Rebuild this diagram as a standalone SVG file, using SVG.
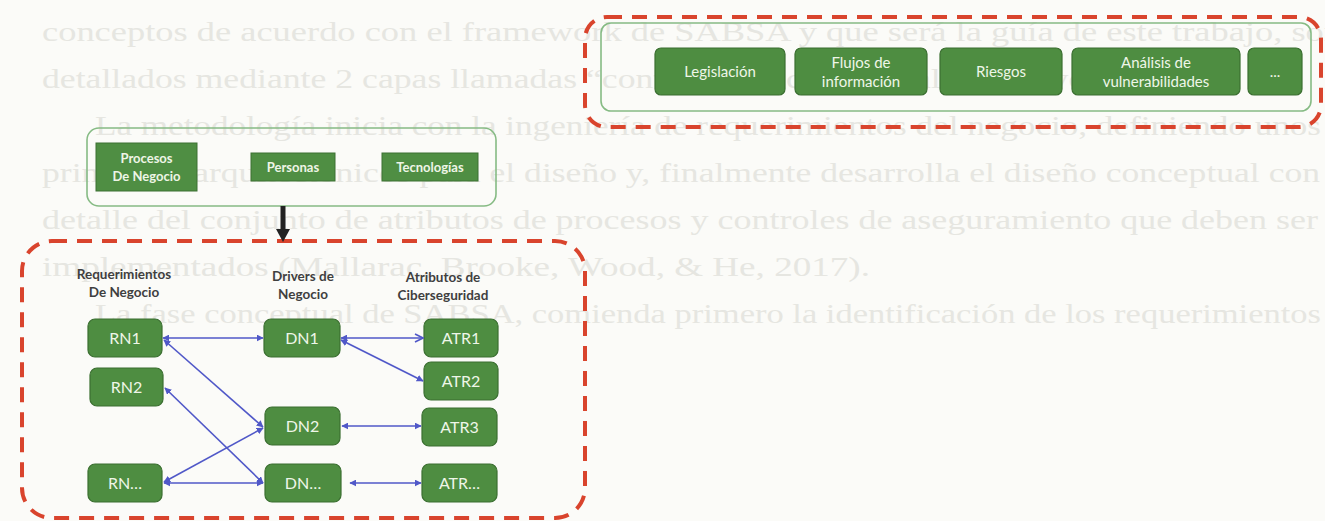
<svg xmlns="http://www.w3.org/2000/svg" width="1325" height="521" viewBox="0 0 1325 521">
  <style>
    .page { fill: #fbfbf8; }
    .bgtext { font-family: "Liberation Serif", serif; font-size: 27px; fill: #e6e6e1; }
    .dash { fill: none; stroke: #d9442d; stroke-width: 4; stroke-dasharray: 15 10; }
    .frame { fill: none; stroke: #86bb84; stroke-width: 1.6; }
    .box { fill: #4e8d41; stroke: #3b6f31; stroke-width: 1.2; }
    .sq { fill: #4f8e43; stroke: #3d7133; stroke-width: 1; }
    .lbl { font-family: Lato, "Open Sans", sans-serif; font-size: 15px; fill: #eef6e8; text-anchor: middle; }
    .blbl { font-family: Lato, "Open Sans", sans-serif; font-size: 13px; font-weight: bold; fill: #eef5e6; text-anchor: middle; }
    .nlbl { font-family: Lato, "Open Sans", sans-serif; font-size: 16px; fill: #eef6e8; text-anchor: middle; }
    .hdr { font-family: Lato, "Open Sans", sans-serif; font-size: 13.5px; font-weight: bold; fill: #3f3f3f; text-anchor: middle; }
    .link { fill: none; stroke: #5058c8; stroke-width: 1.6; }
  </style>
  <defs>
    <marker id="tri" viewBox="0 0 10 10" refX="9" refY="5" markerWidth="7" markerHeight="7" markerUnits="userSpaceOnUse" orient="auto-start-reverse">
      <path d="M0,0 L10,5 L0,10 Z" fill="#5058c8"/>
    </marker>
    <marker id="chev" viewBox="0 0 10 10" refX="9" refY="5" markerWidth="10" markerHeight="10" markerUnits="userSpaceOnUse" orient="auto">
      <path d="M1,1 L9,5 L1,9" fill="none" stroke="#5058c8" stroke-width="1.6"/>
    </marker>
  </defs>

  <rect class="page" x="0" y="0" width="1325" height="521"/>

  <!-- printed page text showing through behind the figure -->
  <g id="page-text">
    <text class="bgtext" x="42" y="41" textLength="1300" lengthAdjust="spacingAndGlyphs">conceptos de acuerdo con el framework de SABSA y que será la guía de este trabajo, son</text>
    <text class="bgtext" x="42" y="88" textLength="1190" lengthAdjust="spacingAndGlyphs">detallados mediante 2 capas llamadas “contextual y conceptual” (Sherwood, 2013).</text>
    <text class="bgtext" x="95" y="135" textLength="1226" lengthAdjust="spacingAndGlyphs">La metodología inicia con la ingeniería de requerimientos del negocio, definiendo unos</text>
    <text class="bgtext" x="42" y="182" textLength="1278" lengthAdjust="spacingAndGlyphs">principios arquitectónicos para el diseño y, finalmente desarrolla el diseño conceptual con</text>
    <text class="bgtext" x="42" y="229" textLength="1276" lengthAdjust="spacingAndGlyphs">detalle del conjunto de atributos de procesos y controles de aseguramiento que deben ser</text>
    <text class="bgtext" x="42" y="276" textLength="828" lengthAdjust="spacingAndGlyphs">implementados (Mallarac, Brooke, Wood, &amp; He, 2017).</text>
    <text class="bgtext" x="95" y="323" textLength="1226" lengthAdjust="spacingAndGlyphs">La fase conceptual de SABSA, comienda primero la identificación de los requerimientos</text>
  </g>

  <!-- context layer -->
  <g id="context">
    <rect class="dash" x="585" y="17" width="736" height="110" rx="22"/>
    <rect class="frame" x="601" y="23" width="710" height="88" rx="10"/>
  </g>
  <g id="legislacion">
    <rect class="box" x="655" y="48" width="130" height="47" rx="6"/>
    <text class="lbl" x="720" y="77">Legislación</text>
  </g>
  <g id="flujos">
    <rect class="box" x="795" y="48" width="132" height="47" rx="6"/>
    <text class="lbl" x="861" y="68">Flujos de</text>
    <text class="lbl" x="861" y="87">información</text>
  </g>
  <g id="riesgos">
    <rect class="box" x="940" y="48" width="122" height="47" rx="6"/>
    <text class="lbl" x="1001" y="77">Riesgos</text>
  </g>
  <g id="vulnerabilidades">
    <rect class="box" x="1072" y="48" width="168" height="47" rx="6"/>
    <text class="lbl" x="1156" y="68">Análisis de</text>
    <text class="lbl" x="1156" y="87">vulnerabilidades</text>
  </g>
  <g id="otros">
    <rect class="box" x="1248" y="48" width="54" height="47" rx="6"/>
    <text class="lbl" x="1275" y="77">...</text>
  </g>

  <!-- business dimensions -->
  <g id="dimensiones">
    <rect class="frame" x="87" y="128" width="409" height="78" rx="12"/>
  </g>
  <g id="procesos">
    <rect class="sq" x="96" y="143" width="101" height="48"/>
    <text class="blbl" x="146.5" y="163">Procesos</text>
    <text class="blbl" x="146.5" y="181">De Negocio</text>
  </g>
  <g id="personas">
    <rect class="sq" x="251" y="153" width="84" height="28"/>
    <text class="blbl" x="293" y="172">Personas</text>
  </g>
  <g id="tecnologias">
    <rect class="sq" x="382" y="153" width="96" height="28"/>
    <text class="blbl" x="430" y="172">Tecnologías</text>
  </g>

  <!-- conceptual layer -->
  <g id="conceptual">
    <rect class="dash" x="22" y="241" width="563" height="277" rx="30"/>
    <text class="hdr" x="124" y="279">Requerimientos</text>
    <text class="hdr" x="124" y="297">De Negocio</text>
    <text class="hdr" x="303" y="281">Drivers de</text>
    <text class="hdr" x="303" y="299">Negocio</text>
    <text class="hdr" x="443" y="282">Atributos de</text>
    <text class="hdr" x="443" y="300">Ciberseguridad</text>
  </g>

  <g id="rn1"><rect class="box" x="88" y="319" width="74" height="38" rx="7"/><text class="nlbl" x="125" y="344">RN1</text></g>
  <g id="rn2"><rect class="box" x="90" y="368" width="73" height="38" rx="7"/><text class="nlbl" x="126.5" y="393">RN2</text></g>
  <g id="rnx"><rect class="box" x="88" y="464" width="74" height="38" rx="7"/><text class="nlbl" x="125" y="489">RN…</text></g>
  <g id="dn1"><rect class="box" x="264" y="319" width="76" height="38" rx="7"/><text class="nlbl" x="302" y="344">DN1</text></g>
  <g id="dn2"><rect class="box" x="265" y="407" width="75" height="38" rx="7"/><text class="nlbl" x="302.5" y="432">DN2</text></g>
  <g id="dnx"><rect class="box" x="265" y="464" width="76" height="38" rx="7"/><text class="nlbl" x="303" y="489">DN…</text></g>
  <g id="atr1"><rect class="box" x="424" y="319" width="74" height="38" rx="7"/><text class="nlbl" x="461" y="344">ATR1</text></g>
  <g id="atr2"><rect class="box" x="424" y="362" width="74" height="38" rx="7"/><text class="nlbl" x="461" y="387">ATR2</text></g>
  <g id="atr3"><rect class="box" x="422" y="408" width="75" height="38" rx="7"/><text class="nlbl" x="459.5" y="433">ATR3</text></g>
  <g id="atrx"><rect class="box" x="422" y="464" width="75" height="38" rx="7"/><text class="nlbl" x="459.5" y="489">ATR…</text></g>

  <!-- connectors -->
  <g id="connectors">
    <line x1="283" y1="206" x2="283" y2="230" stroke="#222" stroke-width="5"/>
    <path d="M276,229 L290,229 L283,242 Z" fill="#222"/>
    <line class="link" x1="163" y1="338" x2="263" y2="338" marker-start="url(#tri)" marker-end="url(#tri)"/>
    <line class="link" x1="164" y1="340" x2="263" y2="427" marker-start="url(#tri)" marker-end="url(#tri)"/>
    <line class="link" x1="165" y1="388" x2="263" y2="483" marker-start="url(#tri)" marker-end="url(#tri)"/>
    <line class="link" x1="164" y1="482" x2="263" y2="428" marker-start="url(#tri)" marker-end="url(#tri)"/>
    <line class="link" x1="164" y1="483" x2="263" y2="483" marker-start="url(#tri)" marker-end="url(#tri)"/>
    <line class="link" x1="341" y1="338" x2="423" y2="338" marker-start="url(#tri)" marker-end="url(#chev)"/>
    <line class="link" x1="341" y1="340" x2="423" y2="381" marker-start="url(#tri)" marker-end="url(#tri)"/>
    <line class="link" x1="342" y1="426" x2="421" y2="426" marker-start="url(#tri)" marker-end="url(#tri)"/>
    <line class="link" x1="350" y1="483" x2="421" y2="483" marker-start="url(#tri)" marker-end="url(#tri)"/>
  </g>
</svg>
